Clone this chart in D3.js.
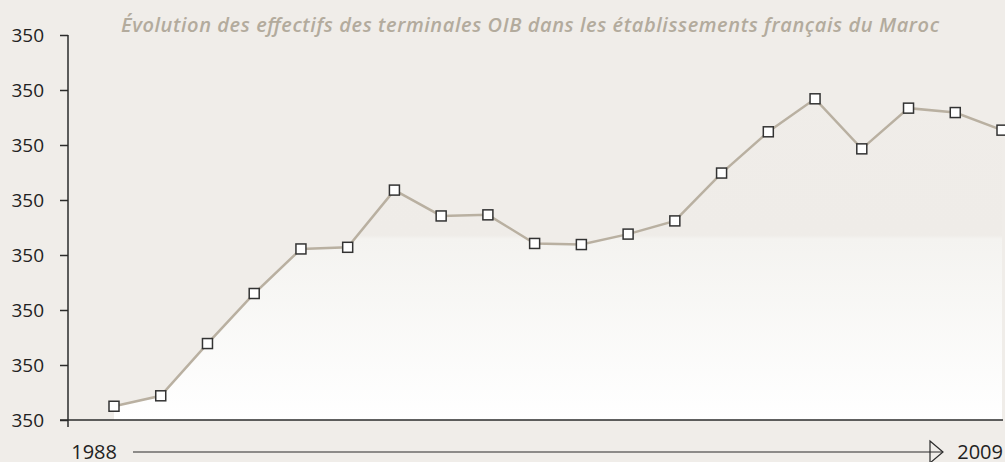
<!DOCTYPE html>
<html>
<head>
	<meta charset="utf-8">
	<title>effectifs OIB</title>
	<style>
		html, body { margin: 0; padding: 0; background: #f0ede9; }
		svg { display: block; }
	</style>
</head>
<body>
<div class="chart"></div>
<script src="https://cdn.jsdelivr.net/npm/d3@7"></script>
<script>
	// data
	let years = [1989, 1990, 1991, 1992, 1993, 1994, 1995, 1996, 1997, 1998,
		1999, 2000, 2001, 2002, 2003, 2004, 2005, 2006, 2007, 2008];
	let values = [0.25, 0.44, 1.39, 2.30, 3.11, 3.14, 4.18, 3.71, 3.73, 3.21,
		3.19, 3.38, 3.62, 4.49, 5.24, 5.84, 4.93, 5.67, 5.59, 5.27];
	let tickValues = [0, 1, 2, 3, 4, 5, 6, 7];
	let tickLabels = ["350", "350", "350", "350", "350", "350", "350", "350"];
	let arrowLabels = ["1988", "2009"];
	let title = "Évolution des effectifs des terminales OIB dans les établissements français du Maroc";

	window.onload = function(){
		drawChart();
	}

	function drawChart(){
		let width = 1005;
		let height = 462;
		let font = "'Open Sans', 'Noto Sans', sans-serif";

		let svg = d3.select(".chart").append("svg")
			.attr("width", width)
			.attr("height", height);

		// scales
		let scaleX = d3.scaleLinear()
			.domain([years[0], years[years.length - 1]])
			.range([114, 1002]);
		let scaleY = d3.scaleLinear()
			.domain([0, 7])
			.range([420, 35]);

		// gradient under the line
		let grad = svg.append("defs").append("linearGradient")
			.attr("id", "fade")
			.attr("gradientUnits", "userSpaceOnUse")
			.attr("x1", 0).attr("x2", 0)
			.attr("y1", scaleY(7)).attr("y2", scaleY(0));
		grad.append("stop").attr("offset", 0).attr("stop-color", "#f0ede9");
		grad.append("stop").attr("offset", 0.52).attr("stop-color", "#efece8");
		grad.append("stop").attr("offset", 0.53).attr("stop-color", "#f4f3f0");
		grad.append("stop").attr("offset", 1).attr("stop-color", "#ffffff");

		let area = d3.area()
			.x((d, i) => scaleX(years[i]))
			.y0(scaleY(0))
			.y1(d => scaleY(d));
		svg.append("path")
			.datum(values)
			.attr("d", area)
			.attr("fill", "url(#fade)");

		// title
		svg.append("text")
			.attr("x", 121)
			.attr("y", 32)
			.attr("font-family", font)
			.attr("font-style", "italic")
			.attr("font-weight", 600)
			.attr("font-size", 20)
			.attr("textLength", 818)
			.attr("lengthAdjust", "spacing")
			.attr("fill", "#b3ab9d")
			.text(title);

		// y axis
		let axisY = d3.axisLeft(scaleY)
			.tickValues(tickValues)
			.tickSize(8)
			.tickPadding(16)
			.tickFormat((d, i) => tickLabels[i]);
		let gy = svg.append("g")
			.attr("transform", "translate(68, 0)")
			.call(axisY);
		gy.select(".domain").remove();
		gy.selectAll(".tick line").attr("stroke", "#2b2b2b").attr("stroke-width", 1.5);
		gy.selectAll(".tick text")
			.attr("font-family", font)
			.attr("font-size", 19)
			.attr("fill", "#222");
		gy.append("line")
			.attr("x1", 0).attr("x2", 0)
			.attr("y1", scaleY(7)).attr("y2", scaleY(0) + 7)
			.attr("stroke", "#2b2b2b").attr("stroke-width", 1.5);

		// x axis line
		svg.append("line")
			.attr("x1", 60).attr("x2", 1003)
			.attr("y1", scaleY(0)).attr("y2", scaleY(0))
			.attr("stroke", "#2b2b2b").attr("stroke-width", 1.5);

		// line + markers
		let line = d3.line()
			.x((d, i) => scaleX(years[i]))
			.y(d => scaleY(d));
		svg.append("path")
			.datum(values)
			.attr("d", line)
			.attr("fill", "none")
			.attr("stroke", "#b9b0a1")
			.attr("stroke-width", 2.5);

		svg.selectAll("rect.mark")
			.data(values)
			.enter()
			.append("rect")
			.attr("class", "mark")
			.attr("x", (d, i) => scaleX(years[i]) - 5)
			.attr("y", d => scaleY(d) - 5)
			.attr("width", 10)
			.attr("height", 10)
			.attr("fill", "#fff")
			.attr("stroke", "#333")
			.attr("stroke-width", 1.5);

		// time arrow
		let ay = 452;
		svg.append("line")
			.attr("x1", 133).attr("x2", 943)
			.attr("y1", ay).attr("y2", ay)
			.attr("stroke", "#2b2b2b").attr("stroke-width", 1.2);
		svg.append("path")
			.attr("d", "M930," + (ay - 11) + "L943," + ay + "L930," + (ay + 11) + "Z")
			.attr("fill", "none")
			.attr("stroke", "#2b2b2b").attr("stroke-width", 1.2);
		svg.append("text")
			.attr("x", 117).attr("y", 459)
			.attr("text-anchor", "end")
			.attr("font-family", font).attr("font-size", 20).attr("fill", "#222")
			.text(arrowLabels[0]);
		svg.append("text")
			.attr("x", 1003).attr("y", 459)
			.attr("text-anchor", "end")
			.attr("font-family", font).attr("font-size", 20).attr("fill", "#222")
			.text(arrowLabels[1]);
	}
</script>
</body>
</html>
